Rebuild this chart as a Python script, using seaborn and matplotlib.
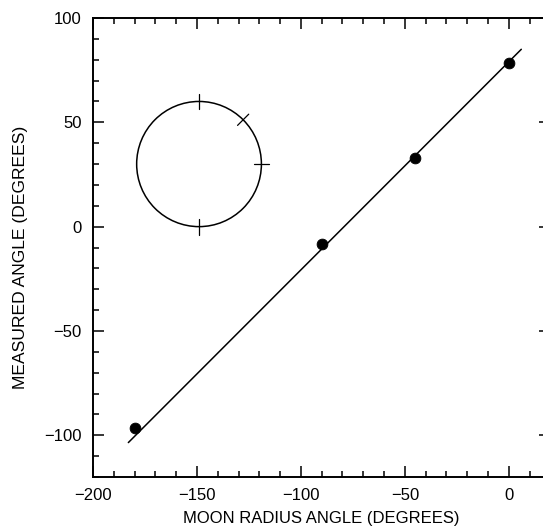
import numpy as np
import matplotlib
matplotlib.use("Agg")
import matplotlib.pyplot as plt
import seaborn as sns
import pandas as pd
from matplotlib.patches import Circle
from matplotlib.ticker import MultipleLocator

# measured points
moon_angle = [-180, -90, -45, 0]
measured_angle = [-96.5, -8.5, 33, 78.5]

# fitted line ends
fit_x = [-183, 6]
fit_y = [-103.5, 85]

# inset circle (data units)
circle_center = (-149, 30)
circle_radius = 30
circle_tick_angles = [90, 45, 0, -90]
circle_tick_half = 3.8

sns.set_style("ticks")
plt.rcParams['font.family'] = ['Liberation Sans', 'DejaVu Sans']
plt.rcParams['text.color'] = 'black'
plt.rcParams['axes.labelcolor'] = 'black'

fig = plt.figure(figsize=(5.43, 5.31), dpi=100)
ax = fig.add_axes([93 / 543, 54 / 531, (550.4 - 93) / 543, (477 - 18) / 531])

df = pd.DataFrame({'x': moon_angle, 'y': measured_angle})
line_df = pd.DataFrame({'x': fit_x, 'y': fit_y})

sns.lineplot(data=line_df, x='x', y='y', ax=ax, color='black', linewidth=1.1)
sns.scatterplot(data=df, x='x', y='y', ax=ax, color='black', s=60, edgecolor='black', zorder=3)

# inset circle with radial ticks
ax.add_patch(Circle(circle_center, circle_radius, fill=False, edgecolor='black', linewidth=1.1))
for a in circle_tick_angles:
    t = np.deg2rad(a)
    r0, r1 = circle_radius - circle_tick_half, circle_radius + circle_tick_half
    cx, cy = circle_center
    ax.plot([cx + r0 * np.cos(t), cx + r1 * np.cos(t)],
            [cy + r0 * np.sin(t), cy + r1 * np.sin(t)], color='black', linewidth=0.9)

ax.set_xlim(-200, 20)
ax.set_ylim(-120, 100)
ax.xaxis.set_major_locator(MultipleLocator(50))
ax.xaxis.set_minor_locator(MultipleLocator(10))
ax.yaxis.set_major_locator(MultipleLocator(50))
ax.yaxis.set_minor_locator(MultipleLocator(10))
ax.tick_params(which='both', direction='in', top=True, right=True, width=1.1,
               labelsize=12, colors='black')
ax.tick_params(which='major', length=8, pad=8)
ax.tick_params(which='minor', length=4)
for s in ax.spines.values():
    s.set_linewidth(1.4)
    s.set_color('black')

ax.set_xlabel('MOON RADIUS ANGLE (DEGREES)', fontsize=12, labelpad=6)
ax.set_ylabel('MEASURED ANGLE (DEGREES)', fontsize=12.6)
ax.yaxis.set_label_coords(-0.142, 0.478)

# unicode minus looks like the reference dashes
ax.xaxis.set_major_formatter(plt.FuncFormatter(lambda v, p: f"{v:.0f}".replace('-', '\u2212')))
ax.yaxis.set_major_formatter(plt.FuncFormatter(lambda v, p: f"{v:.0f}".replace('-', '\u2212')))

fig.savefig('out.png', dpi=100)
